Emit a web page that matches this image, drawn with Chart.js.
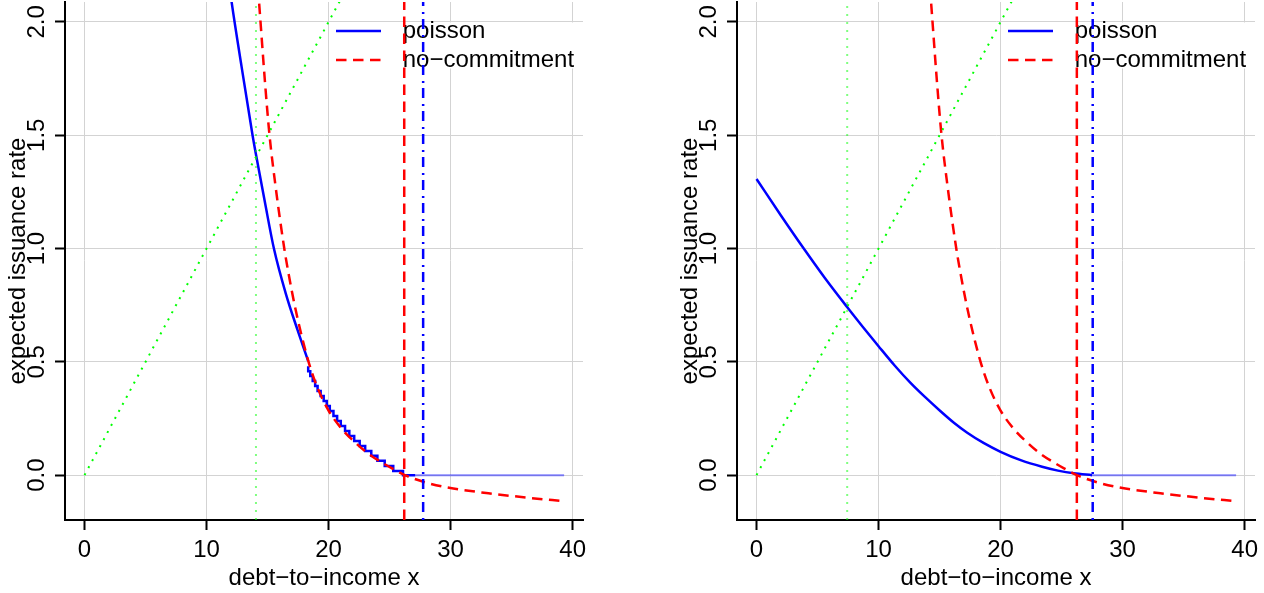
<!DOCTYPE html>
<html><head><meta charset="utf-8">
<script src="https://cdn.jsdelivr.net/npm/chart.js@4.4.0/dist/chart.umd.min.js"></script>
<style>
html,body{margin:0;padding:0;background:#fff;width:1264px;height:593px;overflow:hidden}
.p{position:absolute;top:0;height:593px}
#w1{left:0;width:632px}
#w2{left:672px;width:592px}
canvas{display:block}
</style></head><body>
<div class="p" id="w1"><canvas id="c1" width="632" height="593"></canvas></div>
<div class="p" id="w2"><canvas id="c2" width="592" height="593"></canvas></div>
<script>
// ---------- data ----------
const xTicks = [0, 10, 20, 30, 40];
const yTicks = [0, 0.5, 1, 1.5, 2];
const xRange = [-1.6, 40.85];
const yRange = [-0.198, 2.088];
const seriesNames = ['poisson', 'no\u2212commitment'];
const xTitle = 'debt\u2212to\u2212income x';
const yTitle = 'expected issuance rate';

// no-commitment curve (same in both panels)
const noCommitX = [14.0, 14.32, 14.81, 15.16, 15.63, 16.37, 16.72, 17.32, 18.36, 19.1, 20.0, 21.1, 22.2, 23.3, 24.4, 25.2, 26.25, 28.2, 30.1, 33.1, 36.4, 39.3];
const noCommitY = [2.305, 2.075, 1.72, 1.50, 1.285, 1.0, 0.89, 0.725, 0.5, 0.385, 0.285, 0.203, 0.143, 0.093, 0.055, 0.03, 0.0, -0.036, -0.058, -0.08, -0.1, -0.115];

// y = x/10 green dotted line
const diagX = [0, 21];
const diagY = [0, 2.1];

// left panel poisson: smooth upper part, staircase lower part, flat tail
const poisLeftUpX = [11.9, 12.03, 12.87, 13.77, 14.05, 14.78, 15.52, 16.5, 17.46, 18.33];
const poisLeftUpY = [2.15, 2.097, 1.803, 1.5, 1.415, 1.205, 1.0, 0.8, 0.64, 0.503];
const poisLeftStepX = [18.33, 18.5, 18.7, 18.9, 19.1, 19.35, 19.6, 19.85, 20.1, 20.4, 20.7, 21.0, 21.35, 21.7, 22.1, 22.55, 23.0, 23.5, 24.0, 24.6, 25.3, 26.1, 27.1];
const poisLeftStepY = [0.481, 0.459, 0.437, 0.415, 0.393, 0.371, 0.349, 0.327, 0.305, 0.283, 0.261, 0.239, 0.217, 0.195, 0.173, 0.151, 0.129, 0.107, 0.085, 0.063, 0.040, 0.018, 0.0];
const poisLeftTailX = [27.1, 39.3];
const poisLeftTailY = [0.0, 0.0];

// right panel poisson
const poisRightX = [0, 2.0, 3.87, 5.6, 7.42, 8.7, 10.0, 11.3, 12.62, 13.8, 15.08, 16.2, 17.27, 18.6, 20.0, 21.7, 23.4, 24.7, 26.0, 27.5];
const poisRightY = [1.307, 1.146, 1.0, 0.87, 0.742, 0.655, 0.569, 0.485, 0.407, 0.345, 0.282, 0.23, 0.187, 0.142, 0.103, 0.065, 0.037, 0.02, 0.008, 0.0];
const poisRightTailX = [27.5, 39.3];
const poisRightTailY = [0.0, 0.0];

// vertical reference lines [green, red, blue]
const vLinesLeft = [14.05, 26.2, 27.75];
const vLinesRight = [7.43, 26.25, 27.55];

// ---------- drawing ----------
const FAM = '"Liberation Sans", Arial, Helvetica, sans-serif';
const FS = 24;
const BLUE = '#0000ff', RED = '#ff0000', GREEN = '#00ff00';
const TAIL = 'rgba(40,40,255,0.55)';
const VGREEN = 'rgba(0,255,0,0.5)';
const DASH = [10.5, 6.5], DOTDASH = [2, 6, 10, 5], DOT = [2, 6];

const pts = (xs, ys) => xs.map((x, i) => ({x: x, y: ys[i]}));
const vpts = x => [{x: x, y: yRange[0]}, {x: x, y: yRange[1]}];

function ds(data, color, dash, width, extra) {
  return Object.assign({
    data: data, borderColor: color, borderWidth: width, borderDash: dash || [],
    pointRadius: 0, fill: false, tension: 0, clip: 0, borderCapStyle: 'butt'
  }, extra || {});
}

const rLegend = {
  id: 'rLegend',
  beforeDatasetsDraw(chart) {
    const {ctx, chartArea: a} = chart;
    const L = a.left;
    ctx.save();
    ctx.fillStyle = '#fff';
    ctx.fillRect(L + 266, 22.5, a.right - (L + 266), 46);
    ctx.lineWidth = 2.5;
    ctx.strokeStyle = BLUE; ctx.setLineDash([]);
    ctx.beginPath(); ctx.moveTo(L + 271, 31); ctx.lineTo(L + 316, 31); ctx.stroke();
    ctx.strokeStyle = RED; ctx.setLineDash(DASH);
    ctx.beginPath(); ctx.moveTo(L + 271, 60); ctx.lineTo(L + 316, 60); ctx.stroke();
    ctx.setLineDash([]);
    ctx.fillStyle = '#000';
    ctx.font = FS + 'px ' + FAM;
    ctx.textBaseline = 'middle'; ctx.textAlign = 'left';
    ctx.fillText(seriesNames[0], L + 337.7, 31.5);
    ctx.fillText(seriesNames[1], L + 337.7, 60.5);
    ctx.restore();
  }
};

function makeChart(id, canvasW, datasets) {
  return new Chart(document.getElementById(id), {
    type: 'line',
    data: {datasets: datasets},
    plugins: [rLegend],
    options: {
      responsive: false, animation: false, devicePixelRatio: 1,
      layout: {padding: {left: 0, right: canvasW - 583, top: 2, bottom: 0}},
      plugins: {legend: {display: false}, tooltip: {enabled: false}},
      scales: {
        x: {
          type: 'linear', min: xRange[0], max: xRange[1],
          afterBuildTicks: s => { s.ticks = xTicks.map(v => ({value: v})); },
          afterFit: s => { s.height = 73; s.paddingLeft = 0; s.paddingRight = 0; },
          ticks: {font: {family: FAM, size: FS}, color: '#000', padding: 5.6, minRotation: 0, maxRotation: 0, autoSkip: false,
                  callback: v => String(v)},
          grid: {color: '#d3d3d3', lineWidth: 1, tickLength: 10, tickColor: '#000', tickWidth: 2},
          border: {display: true, color: '#000', width: 2},
          title: {display: true, text: xTitle, color: '#000', font: {family: FAM, size: FS}, padding: {top: 0, bottom: 0.6}}
        },
        y: {
          type: 'linear', min: yRange[0], max: yRange[1],
          afterBuildTicks: s => { s.ticks = yTicks.map(v => ({value: v})); },
          afterFit: s => { s.width = 65; s.paddingTop = 0; s.paddingBottom = 0; },
          ticks: {font: {family: FAM, size: FS}, color: '#000', padding: 0.5, minRotation: 90, maxRotation: 90,
                  crossAlign: 'center', autoSkip: false, callback: v => v.toFixed(1)},
          grid: {color: '#d3d3d3', lineWidth: 1, tickLength: 10, tickColor: '#000', tickWidth: 2},
          border: {display: true, color: '#000', width: 2},
          title: {display: true, text: yTitle, color: '#000', font: {family: FAM, size: FS}, padding: {top: 4.1, bottom: 0}}
        }
      }
    }
  });
}

makeChart('c1', 632, [
  ds(vpts(vLinesLeft[1]), RED, DASH, 2.5, {order: 1}),
  ds(vpts(vLinesLeft[2]), BLUE, DOTDASH, 2.5, {order: 2}),
  ds(vpts(vLinesLeft[0]), VGREEN, DOT, 2, {order: 3}),
  ds(pts(diagX, diagY), GREEN, DOT, 2, {order: 4}),
  ds(pts(noCommitX, noCommitY), RED, DASH, 2.5, {order: 5, cubicInterpolationMode: 'monotone'}),
  ds(pts(poisLeftStepX, poisLeftStepY), BLUE, [], 2.5, {order: 6, stepped: 'after'}),
  ds(pts(poisLeftUpX, poisLeftUpY), BLUE, [], 2.5, {order: 7, cubicInterpolationMode: 'monotone'}),
  ds(pts(poisLeftTailX, poisLeftTailY), TAIL, [], 2, {order: 8})
]);

makeChart('c2', 592, [
  ds(vpts(vLinesRight[1]), RED, DASH, 2.5, {order: 1}),
  ds(vpts(vLinesRight[2]), BLUE, DOTDASH, 2.5, {order: 2}),
  ds(vpts(vLinesRight[0]), VGREEN, DOT, 2, {order: 3}),
  ds(pts(diagX, diagY), GREEN, DOT, 2, {order: 4}),
  ds(pts(noCommitX, noCommitY), RED, DASH, 2.5, {order: 5, cubicInterpolationMode: 'monotone'}),
  ds(pts(poisRightX, poisRightY), BLUE, [], 2.5, {order: 6, cubicInterpolationMode: 'monotone'}),
  ds(pts(poisRightTailX, poisRightTailY), TAIL, [], 2, {order: 7})
]);
</script>
</body></html>
